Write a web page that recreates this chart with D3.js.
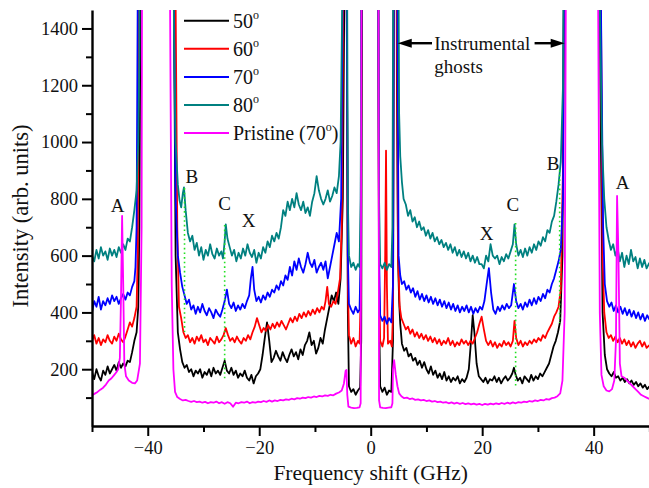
<!DOCTYPE html>
<html><head><meta charset="utf-8">
<script src="https://cdn.jsdelivr.net/npm/d3@7"></script>
<style>body{margin:0;background:#fff}svg{display:block}svg text{font-family:"Liberation Serif","Times New Roman",serif !important}</style>
</head><body><svg id="c" width="649" height="488"></svg>
<script>
// ---------- DATA (frequency shift GHz, intensity arb. units) ----------
const s50 = [[-50,190],[-49.6,165],[-49.2,200],[-48.8,175],[-48.4,160],[-48,195],[-47.6,180],[-47.2,210],[-46.8,185],[-46.4,200],[-46,215],[-45.6,195],[-45.2,225],[-44.8,205],[-44.4,220],[-44,210],[-43.6,230],[-43.2,225],[-42.8,260],[-42.4,300],[-42,330],[-41.7,420],[-41.5,700],[-41.3,1500],[-41,3000],[-38,5000],[-35.6,3000],[-35.3,1500],[-35,600],[-34.6,330],[-34.2,270],[-33.8,225],[-33.4,205],[-33,215],[-32.6,190],[-32.2,200],[-31.8,175],[-31.4,195],[-31,185],[-30.6,200],[-30.2,170],[-29.8,190],[-29.4,180],[-29,200],[-28.6,175],[-28.2,205],[-27.8,185],[-27.4,195],[-27,180],[-26.6,205],[-26.2,230],[-25.8,195],[-25.4,185],[-25,205],[-24.6,180],[-24.2,195],[-23.8,170],[-23.4,185],[-23,175],[-22.6,195],[-22.2,170],[-21.8,160],[-21.4,180],[-21,150],[-20.6,175],[-20.2,185],[-19.8,200],[-19.4,250],[-19,310],[-18.6,365],[-18.2,300],[-17.8,225],[-17.4,240],[-17,265],[-16.6,245],[-16.2,230],[-15.8,260],[-15.4,240],[-15,225],[-14.6,250],[-14.2,270],[-13.8,245],[-13.4,260],[-13,235],[-12.6,270],[-12.2,250],[-11.8,285],[-11.4,300],[-11,330],[-10.6,285],[-10.2,300],[-9.8,255],[-9.4,275],[-9,310],[-8.6,290],[-8.2,340],[-7.8,380],[-7.4,420],[-7,460],[-6.6,440],[-6.2,470],[-5.8,430],[-5.4,520],[-5,800],[-4.7,1600],[-4.5,3000],[-4.3,1500],[-4.1,400],[-3.9,140],[-3.5,120],[-3.1,130],[-2.7,110],[-2.3,125],[-1.9,135],[-1.7,300],[-1.5,2000],[0,5000],[1.3,2000],[1.5,400],[1.7,140],[2.1,120],[2.5,135],[2.9,110],[3.3,125],[3.7,120],[4,300],[4.2,2000],[4.5,3000],[4.7,1200],[4.9,600],[5.1,440],[5.3,360],[5.6,290],[6,265],[6.4,275],[6.8,245],[7.2,255],[7.6,230],[8,240],[8.4,215],[8.8,230],[9.2,205],[9.6,225],[10,200],[10.4,185],[10.8,210],[11.2,180],[11.6,195],[12,170],[12.4,185],[12.8,165],[13.2,190],[13.6,160],[14,175],[14.4,155],[14.8,170],[15.2,160],[15.6,175],[16,150],[16.4,165],[16.8,155],[17.2,170],[17.6,200],[18,300],[18.3,390],[18.6,330],[19,220],[19.4,175],[19.8,165],[20.2,155],[20.6,170],[21,150],[21.4,165],[21.8,160],[22.2,175],[22.6,155],[23,170],[23.4,150],[23.8,165],[24.2,175],[24.6,160],[25,170],[25.4,185],[25.7,205],[26,180],[26.4,160],[26.8,170],[27.2,150],[27.6,175],[28,165],[28.4,155],[28.8,180],[29.2,160],[29.6,175],[30,165],[30.4,185],[30.8,175],[31.2,190],[31.6,205],[32,220],[32.4,250],[32.8,280],[33.2,300],[33.6,330],[34,370],[34.4,600],[34.8,2000],[35.2,4000],[38,5000],[40.8,3000],[41.2,1200],[41.6,400],[42,250],[42.4,200],[42.8,185],[43.2,175],[43.6,190],[44,170],[44.4,175],[44.8,160],[45.2,170],[45.6,155],[46,165],[46.4,150],[46.8,160],[47.2,145],[47.6,155],[48,140],[48.4,150],[48.8,135],[49.2,145],[49.6,130],[50,140]];

const s60 = [[-50,300],[-49.6,320],[-49.2,290],[-48.8,310],[-48.4,285],[-48,305],[-47.6,295],[-47.2,320],[-46.8,300],[-46.4,290],[-46,315],[-45.6,300],[-45.2,325],[-44.8,305],[-44.4,295],[-44,315],[-43.6,340],[-43.2,365],[-42.8,350],[-42.4,380],[-42,420],[-41.8,600],[-41.6,1500],[-41.3,3000],[-38,5000],[-35.4,3000],[-35,1500],[-34.7,700],[-34.4,420],[-34,380],[-33.6,330],[-33.2,310],[-32.8,320],[-32.4,295],[-32,310],[-31.6,290],[-31.2,315],[-30.8,300],[-30.4,320],[-30,295],[-29.6,305],[-29.2,285],[-28.8,310],[-28.4,300],[-28,290],[-27.6,315],[-27.2,295],[-26.8,305],[-26.4,320],[-26,345],[-25.6,320],[-25.2,300],[-24.8,310],[-24.4,295],[-24,315],[-23.6,300],[-23.2,290],[-22.8,310],[-22.4,300],[-22,320],[-21.6,305],[-21.2,330],[-20.8,350],[-20.4,380],[-20,355],[-19.6,330],[-19.2,345],[-18.8,335],[-18.4,355],[-18,340],[-17.6,360],[-17.2,345],[-16.8,365],[-16.4,350],[-16,370],[-15.6,355],[-15.2,340],[-14.8,360],[-14.4,380],[-14,365],[-13.6,385],[-13.2,370],[-12.8,395],[-12.4,380],[-12,400],[-11.6,385],[-11.2,405],[-10.8,390],[-10.4,410],[-10,395],[-9.6,415],[-9.2,400],[-8.8,420],[-8.4,410],[-8.1,440],[-7.8,490],[-7.5,430],[-7.1,420],[-6.7,440],[-6.3,430],[-5.9,470],[-5.5,520],[-5.2,700],[-4.9,1600],[-4.6,3000],[-4.3,1500],[-4.1,500],[-3.9,320],[-3.5,290],[-3.1,310],[-2.7,280],[-2.3,300],[-2,290],[-1.8,450],[-1.6,2000],[0,5000],[1.3,2000],[1.5,500],[1.7,300],[2.1,280],[2.4,310],[2.6,600],[2.75,970],[2.9,500],[3.1,290],[3.5,300],[3.8,280],[4,400],[4.2,2000],[4.5,3000],[4.7,1500],[4.9,600],[5.2,420],[5.5,380],[5.9,360],[6.3,340],[6.7,350],[7.1,325],[7.5,340],[7.9,315],[8.3,330],[8.7,310],[9.1,325],[9.5,305],[9.9,320],[10.3,300],[10.7,315],[11.1,295],[11.5,310],[11.9,290],[12.3,305],[12.7,285],[13.1,300],[13.5,290],[13.9,310],[14.3,285],[14.7,300],[15.1,280],[15.5,295],[15.9,285],[16.3,305],[16.7,290],[17.1,300],[17.5,285],[17.9,300],[18.3,290],[18.7,310],[19.1,330],[19.5,360],[19.9,385],[20.3,340],[20.7,300],[21.1,285],[21.5,300],[21.9,280],[22.3,295],[22.7,275],[23.1,290],[23.5,280],[23.9,300],[24.3,285],[24.7,295],[25.1,280],[25.5,300],[25.8,370],[26.1,310],[26.5,285],[26.9,300],[27.3,280],[27.7,295],[28.1,285],[28.5,300],[28.9,290],[29.3,305],[29.7,295],[30.1,310],[30.5,300],[30.9,320],[31.3,310],[31.7,330],[32.1,345],[32.5,360],[32.9,385],[33.3,400],[33.7,420],[34.1,480],[34.5,900],[34.9,2500],[35.3,4000],[38,5000],[40.8,3000],[41.3,1500],[41.6,600],[41.9,400],[42.3,330],[42.7,310],[43.1,320],[43.5,300],[43.9,315],[44.3,295],[44.7,310],[45.1,290],[45.5,305],[45.9,285],[46.3,300],[46.7,280],[47.1,295],[47.5,275],[47.9,290],[48.3,300],[48.7,280],[49.1,295],[49.5,275],[50,285]];

const s70 = [[-50,400],[-49.6,440],[-49.2,420],[-48.8,455],[-48.4,410],[-48,440],[-47.6,425],[-47.2,450],[-46.8,430],[-46.4,460],[-46,440],[-45.6,455],[-45.2,430],[-44.8,450],[-44.4,465],[-44,445],[-43.6,470],[-43.2,460],[-42.8,490],[-42.4,510],[-42.2,560],[-42,700],[-41.8,1500],[-41.5,3000],[-38,5000],[-35.6,3000],[-35.3,1500],[-35,800],[-34.6,600],[-34.2,540],[-33.8,490],[-33.4,460],[-33,430],[-32.6,445],[-32.2,410],[-31.8,425],[-31.4,395],[-31,420],[-30.6,400],[-30.2,430],[-29.8,405],[-29.4,390],[-29,415],[-28.6,400],[-28.2,380],[-27.8,410],[-27.4,395],[-27,385],[-26.6,410],[-26.2,440],[-25.8,480],[-25.4,430],[-25,415],[-24.6,435],[-24.2,405],[-23.8,425],[-23.4,410],[-23,430],[-22.6,415],[-22.2,440],[-21.8,460],[-21.5,520],[-21.2,560],[-20.9,480],[-20.5,440],[-20.1,455],[-19.7,435],[-19.3,460],[-18.9,445],[-18.5,470],[-18.1,455],[-17.7,480],[-17.3,470],[-16.9,495],[-16.5,480],[-16.1,510],[-15.7,495],[-15.3,530],[-14.9,515],[-14.5,560],[-14.1,530],[-13.7,580],[-13.3,550],[-12.9,590],[-12.5,560],[-12.1,540],[-11.7,570],[-11.3,610],[-10.9,575],[-10.5,560],[-10.1,585],[-9.7,540],[-9.3,560],[-8.9,575],[-8.5,550],[-8.1,580],[-7.7,520],[-7.3,560],[-6.9,600],[-6.5,640],[-6.1,680],[-5.7,650],[-5.3,800],[-5,1600],[-4.7,3000],[-4.3,1500],[-4.1,600],[-3.9,430],[-3.5,410],[-3.1,395],[-2.7,420],[-2.3,400],[-2,410],[-1.8,600],[-1.6,2000],[0,5000],[1.3,2000],[1.5,600],[1.7,390],[2.1,370],[2.5,385],[2.9,360],[3.3,380],[3.7,365],[4,500],[4.2,2000],[4.5,3000],[4.8,1500],[5,600],[5.3,530],[5.6,500],[6,510],[6.4,480],[6.8,495],[7.2,470],[7.6,485],[8,455],[8.4,475],[8.8,445],[9.2,465],[9.6,440],[10,460],[10.4,435],[10.8,455],[11.2,430],[11.6,450],[12,425],[12.4,445],[12.8,420],[13.2,440],[13.6,415],[14,435],[14.4,410],[14.8,430],[15.2,405],[15.6,425],[16,400],[16.4,420],[16.8,405],[17.2,425],[17.6,400],[18,420],[18.4,395],[18.8,415],[19.2,400],[19.6,420],[20,410],[20.4,440],[20.8,500],[21.2,556],[21.6,470],[22,410],[22.4,395],[22.8,420],[23.2,405],[23.6,425],[24,410],[24.4,430],[24.8,415],[25.2,425],[25.7,500],[26.1,440],[26.5,415],[26.9,430],[27.3,410],[27.7,435],[28.1,420],[28.5,445],[28.9,425],[29.3,450],[29.7,430],[30.1,455],[30.5,440],[30.9,465],[31.3,450],[31.7,480],[32.1,470],[32.5,500],[32.9,520],[33.3,550],[33.7,580],[34.1,620],[34.5,800],[34.8,2000],[35.2,4000],[38,5000],[40.8,3000],[41.3,1500],[41.7,700],[42,500],[42.4,440],[42.8,420],[43.2,435],[43.6,405],[44,425],[44.4,400],[44.8,420],[45.2,395],[45.6,415],[46,390],[46.4,410],[46.8,385],[47.2,405],[47.6,380],[48,400],[48.4,375],[48.8,395],[49.2,370],[49.6,390],[50,375]];

const s80 = [[-50,600],[-49.6,580],[-49.2,620],[-48.8,590],[-48.4,630],[-48,600],[-47.6,615],[-47.2,585],[-46.8,625],[-46.4,600],[-46,620],[-45.6,595],[-45.2,630],[-44.8,610],[-44.4,640],[-44,620],[-43.6,660],[-43.2,650],[-42.8,700],[-42.4,760],[-42,830],[-41.7,1000],[-41.5,1300],[-41.3,3000],[-38,5000],[-35.6,3000],[-35.3,1400],[-35,1000],[-34.6,850],[-34.3,795],[-34,770],[-33.7,820],[-33.5,840],[-33.2,760],[-32.8,680],[-32.4,650],[-32,670],[-31.6,620],[-31.2,645],[-30.8,600],[-30.4,630],[-30,585],[-29.6,620],[-29.2,600],[-28.8,640],[-28.4,605],[-28,590],[-27.6,625],[-27.2,600],[-26.8,615],[-26.5,590],[-26.2,650],[-26,710],[-25.7,660],[-25.3,630],[-24.9,600],[-24.5,620],[-24.1,580],[-23.7,610],[-23.3,590],[-22.9,625],[-22.5,600],[-22.1,640],[-21.7,610],[-21.3,595],[-20.9,620],[-20.5,575],[-20.1,610],[-19.7,590],[-19.3,630],[-18.9,610],[-18.5,650],[-18.1,630],[-17.7,670],[-17.3,650],[-16.9,680],[-16.5,660],[-16.1,700],[-15.7,760],[-15.3,740],[-14.9,790],[-14.5,760],[-14.1,800],[-13.7,770],[-13.3,820],[-12.9,780],[-12.5,760],[-12.1,790],[-11.7,750],[-11.3,770],[-10.9,740],[-10.5,790],[-10.1,820],[-9.7,880],[-9.3,830],[-8.9,800],[-8.5,780],[-8.1,800],[-7.7,830],[-7.3,790],[-6.9,810],[-6.5,840],[-6.1,820],[-5.7,880],[-5.4,1000],[-5.1,1500],[-4.8,3000],[-4.3,2000],[-4.1,800],[-3.9,600],[-3.5,560],[-3.1,575],[-2.7,550],[-2.3,570],[-2,560],[-1.8,800],[-1.6,2000],[0,5000],[1.3,2000],[1.5,800],[1.7,570],[2.1,555],[2.5,575],[2.9,550],[3.3,570],[3.7,560],[3.9,700],[4.1,2000],[4.5,3000],[4.9,2000],[5.1,1100],[5.3,950],[5.6,860],[5.9,800],[6.3,780],[6.7,740],[7.1,760],[7.5,720],[7.9,735],[8.3,700],[8.7,720],[9.1,690],[9.5,700],[9.9,670],[10.3,690],[10.7,660],[11.1,680],[11.5,650],[11.9,665],[12.3,640],[12.7,655],[13.1,630],[13.5,645],[13.9,620],[14.3,640],[14.7,610],[15.1,630],[15.5,600],[15.9,620],[16.3,595],[16.7,615],[17.1,590],[17.5,610],[17.9,580],[18.3,600],[18.7,575],[19.1,595],[19.5,570],[19.9,570],[20.3,555],[20.7,600],[21.1,580],[21.5,640],[21.9,600],[22.3,590],[22.7,600],[23.1,570],[23.5,595],[23.9,580],[24.3,605],[24.7,590],[25.1,615],[25.5,640],[25.8,710],[26.1,640],[26.5,600],[26.9,620],[27.3,595],[27.7,625],[28.1,600],[28.5,630],[28.9,610],[29.3,640],[29.7,620],[30.1,650],[30.5,635],[30.9,665],[31.3,650],[31.7,690],[32.1,680],[32.5,720],[32.9,740],[33.3,790],[33.7,850],[34.1,930],[34.5,1200],[34.8,2500],[35.1,4000],[38,5000],[40.7,3000],[41.1,1500],[41.5,1000],[41.9,800],[42.3,700],[42.7,655],[43.1,620],[43.5,640],[43.9,600],[44.3,625],[44.7,580],[45.1,610],[45.5,560],[45.9,600],[46.3,570],[46.7,620],[47.1,580],[47.5,595],[47.9,555],[48.3,590],[48.7,560],[49.1,585],[49.5,555],[50,575]];

const sPristine = [[-50,108],[-49.5,114],[-49,120],[-48.5,128],[-48,135],[-47.5,146],[-47,160],[-46.5,168],[-46,180],[-45.6,190],[-45.3,200],[-45,240],[-44.8,450],[-44.6,740],[-44.4,500],[-44.2,220],[-43.9,175],[-43.4,160],[-42.8,152],[-42.3,150],[-41.9,160],[-41.4,220],[-41.1,700],[-40.9,3000],[-38,5000],[-36.3,3000],[-36,1500],[-35.7,500],[-35.4,200],[-35.1,120],[-34.7,102],[-34.2,95],[-33.7,90],[-33.2,92],[-32.7,88],[-32.2,85],[-31.7,88],[-31.2,84],[-30.7,86],[-30.2,82],[-29.7,85],[-29.2,80],[-28.7,84],[-28.2,82],[-27.7,86],[-27.2,80],[-26.7,84],[-26.2,78],[-25.7,84],[-25.2,80],[-24.7,68],[-24.2,82],[-23.7,80],[-23.2,84],[-22.7,82],[-22.2,86],[-21.7,80],[-21.2,84],[-20.7,82],[-20.2,86],[-19.7,84],[-19.2,88],[-18.7,85],[-18.2,90],[-17.7,86],[-17.2,90],[-16.7,88],[-16.2,92],[-15.7,90],[-15.2,94],[-14.7,92],[-14.2,96],[-13.7,94],[-13.2,98],[-12.7,96],[-12.2,100],[-11.7,98],[-11.2,102],[-10.7,100],[-10.2,104],[-9.7,102],[-9.2,106],[-8.7,104],[-8.2,108],[-7.7,106],[-7.2,110],[-6.7,108],[-6.2,114],[-5.7,118],[-5.2,125],[-4.8,150],[-4.5,195],[-4.35,197],[-4.2,110],[-4,68],[-3.5,65],[-3,63],[-2.5,64],[-2,66],[-1.8,80],[-1.6,2000],[0,5000],[1.35,2000],[1.5,90],[1.7,66],[2.2,64],[2.7,63],[3.2,65],[3.7,66],[3.9,80],[4,200],[4.2,232],[4.5,180],[4.8,140],[5.1,115],[5.5,105],[6,98],[6.5,100],[7,95],[7.5,97],[8,92],[8.5,94],[9,90],[9.5,92],[10,88],[10.5,90],[11,86],[11.5,88],[12,84],[12.5,86],[13,82],[13.5,84],[14,80],[14.5,83],[15,79],[15.5,82],[16,78],[16.5,81],[17,77],[17.5,80],[18,76],[18.5,79],[19,75],[19.5,78],[20,74],[20.5,78],[21,75],[21.5,79],[22,76],[22.5,80],[23,77],[23.5,81],[24,78],[24.5,82],[25,79],[25.5,83],[26,80],[26.5,84],[27,82],[27.5,86],[28,84],[28.5,88],[29,86],[29.5,90],[30,88],[30.5,92],[31,90],[31.5,95],[32,93],[32.5,98],[33,100],[33.5,105],[34,115],[34.4,160],[34.8,400],[35.1,2000],[35.4,3000],[38,5000],[40.5,3000],[40.8,1500],[41.1,400],[41.4,180],[41.8,140],[42.3,125],[42.8,122],[43.3,130],[43.7,160],[44,300],[44.2,810],[44.45,600],[44.7,220],[45,175],[45.5,170],[46,160],[46.5,150],[47,140],[47.5,130],[48,120],[48.5,110],[49,105],[49.5,100],[50,95]];

const seriesList = [s50, s60, s70, s80, sPristine];
const legendLabels = ["50", "60", "70", "80", "Pristine (70"];
const legendSuffix = ["", "", "", "", ")"];
const seriesColors = ["#000000", "#ff0000", "#0000ff", "#008080", "#ff00ff"];

const xMajorTicks = [-40, -20, 0, 20, 40];
const xMinorTicks = [-50, -30, -10, 10, 30, 50];
const yMajorTicks = [200, 400, 600, 800, 1000, 1200, 1400];
const yMinorTicks = [100, 300, 500, 700, 900, 1100, 1300];

// peak labels [text, GHz, intensity]
const peakLabels = [["A",-45.4,778],["B",-32.1,880],["C",-26.2,785],["X",-21.9,725],["X",20.8,679],["C",25.5,781],["B",32.7,926],["A",45.2,859]];
// green dotted guides [GHz, top intensity, bottom intensity]
const guides = [[-33.4,838,331],[-26.2,708,162],[26.0,715,138],[33.9,901,363]];
// instrumental ghost arrows [from GHz, to GHz, intensity]
const arrows = [[11.0,4.85,1348],[29.4,34.8,1348]];
const ghostText = [["Instrumental",11.4,1323],["ghosts",11.4,1243]];

// ---------- CHART ----------
const svg = d3.select("#c");
const serif = '"Liberation Serif","Times New Roman",serif';
const x = d3.scaleLinear().domain([-50, 50]).range([92, 649.4]);
const y = d3.scaleLinear().domain([0, 1465]).range([426, 10]);

svg.append("defs").append("clipPath").attr("id","clip")
  .append("rect").attr("x", x(-50)).attr("y", y(1465)).attr("width", x(50)-x(-50)).attr("height", y(0)-y(1465));

const line = d3.line().x(d => x(d[0])).y(d => y(d[1]));
const plot = svg.append("g").attr("clip-path","url(#clip)");
seriesList.forEach((s, i) => {
  plot.append("path").datum(s).attr("d", line)
    .attr("fill","none").attr("stroke", seriesColors[i]).attr("stroke-width", 1.8)
    .attr("stroke-linejoin","round");
});

// guides
plot.selectAll(".guide").data(guides).enter().append("line")
  .attr("x1", d => x(d[0])).attr("x2", d => x(d[0]))
  .attr("y1", d => y(d[1])).attr("y2", d => y(d[2]))
  .attr("stroke", "#22e022").attr("stroke-width", 1.6).attr("stroke-dasharray", "1.6,3");

// axes
function styleAxis(g) {
  g.attr("font-family", null).attr("font-size", null);
  g.select(".domain").attr("stroke","#000").attr("stroke-width",2.4);
  g.selectAll(".tick line").attr("stroke","#000").attr("stroke-width",2);
  g.selectAll(".tick text").style("font-family", serif).style("font-size", "18.5px").attr("fill","#111");
}
const gx = svg.append("g").attr("transform", `translate(0,${y(0)})`)
  .call(d3.axisBottom(x).tickValues(xMajorTicks).tickSize(10).tickSizeOuter(0).tickPadding(5).tickFormat(d3.format("d")));
styleAxis(gx);
const gxm = svg.append("g").attr("transform", `translate(0,${y(0)})`)
  .call(d3.axisBottom(x).tickValues(xMinorTicks).tickSize(6).tickSizeOuter(0).tickFormat(""));
styleAxis(gxm);
gxm.select(".domain").remove();

const gy = svg.append("g").attr("transform", `translate(${x(-50)},0)`)
  .call(d3.axisLeft(y).tickValues(yMajorTicks).tickSize(10).tickSizeOuter(0).tickPadding(4).tickFormat(d3.format("d")));
styleAxis(gy);
const gym = svg.append("g").attr("transform", `translate(${x(-50)},0)`)
  .call(d3.axisLeft(y).tickValues(yMinorTicks).tickSize(6).tickSizeOuter(0).tickFormat(""));
styleAxis(gym);
gym.select(".domain").remove();

// axis titles
svg.append("text").attr("x", x(0)).attr("y", 480).attr("text-anchor","middle")
  .style("font-family", serif).style("font-size", "21.5px").attr("fill","#111").text("Frequency shift (GHz)");
svg.append("text").attr("transform", `translate(28,${216}) rotate(-90)`).attr("text-anchor","middle")
  .style("font-family", serif).style("font-size", "22.5px").attr("fill","#111").text("Intensity (arb. units)");

// peak labels
svg.selectAll(".pl").data(peakLabels).enter().append("text")
  .attr("x", d => x(d[1])).attr("y", d => y(d[2])).attr("dy","0.35em")
  .attr("text-anchor","middle").style("font-family", serif).style("font-size", "19px").attr("fill","#111")
  .text(d => d[0]);

// instrumental ghosts
svg.selectAll(".gt").data(ghostText).enter().append("text")
  .attr("x", d => x(d[1])).attr("y", d => y(d[2]))
  .style("font-family", serif).style("font-size", "19px").attr("fill","#111").text(d => d[0]);
arrows.forEach(a => {
  const x0 = x(a[0]), x1 = x(a[1]), yy = y(a[2]);
  const dir = Math.sign(x1 - x0);
  svg.append("line").attr("x1", x0).attr("x2", x1 - dir*12).attr("y1", yy).attr("y2", yy)
    .attr("stroke","#000").attr("stroke-width",2.4);
  svg.append("path").attr("d", `M${x1},${yy} L${x1-dir*14},${yy-4.5} L${x1-dir*14},${yy+4.5} Z`).attr("fill","#000");
});

// legend
const lg = svg.append("g");
legendLabels.forEach((lab, i) => {
  const ly = 20.7 + i*28.1;
  lg.append("line").attr("x1",184).attr("x2",229).attr("y1",ly).attr("y2",ly)
    .attr("stroke", seriesColors[i]).attr("stroke-width",2);
  const t = lg.append("text").attr("x",233).attr("y",ly+7)
    .style("font-family", serif).style("font-size", "20px").attr("fill","#111");
  t.append("tspan").text(lab);
  t.append("tspan").attr("dy",-9).style("font-size","12px").text("o");
  if (legendSuffix[i]) t.append("tspan").attr("dy",9).text(legendSuffix[i]);
});
</script>
</body></html>
